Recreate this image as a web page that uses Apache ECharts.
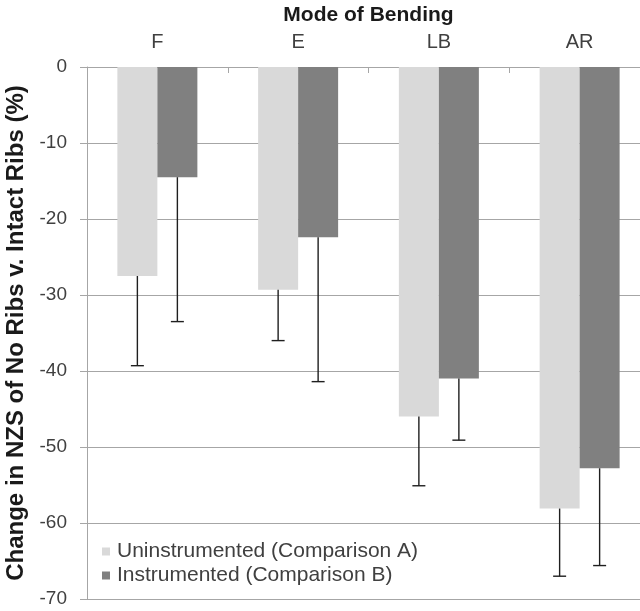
<!DOCTYPE html>
<html>
<head>
<meta charset="utf-8">
<script src="https://cdn.jsdelivr.net/npm/echarts@6/dist/echarts.min.js"></script>
<style>
  html, body { margin: 0; padding: 0; background: #fff; }
  #chart { width: 640px; height: 611px; }
</style>
</head>
<body>
<div id="chart"></div>
<script>
// Modes of bending (category axis, shown on top)
const categories = ['F', 'E', 'LB', 'AR'];

// Mean change in NZS (%) for each comparison
const uninstrumented = [-27.5, -29.3, -46.0, -58.1];
const instrumented = [-14.5, -22.4, -41.0, -52.8];

// Standard deviations, drawn as one-sided (downward) error bars
const uninstrumentedSD = [11.8, 6.7, 9.1, 8.9];
const instrumentedSD = [19.0, 19.0, 8.1, 12.8];

// Value axis ticks
const yTicks = { min: -70, max: 0, interval: 10 };

const seriesNames = ['Uninstrumented (Comparison A)', 'Instrumented (Comparison B)'];

const FONT = "'Liberation Sans', Arial, sans-serif";
const BAR_W = 40;

function errorBarRenderer(offset) {
  return function (params, api) {
    const idx = api.value(0);
    const mean = api.value(1);
    const sd = api.value(2);
    const start = api.coord([idx, mean]);
    const end = api.coord([idx, mean - sd]);
    const x = start[0] + offset;
    const cap = 6.5;
    const style = { stroke: '#1f1f1f', lineWidth: 1.4 };
    return {
      type: 'group',
      children: [
        { type: 'line', shape: { x1: x, y1: start[1], x2: x, y2: end[1] }, style },
        { type: 'line', shape: { x1: x - cap, y1: end[1], x2: x + cap, y2: end[1] }, style }
      ]
    };
  };
}

const chart = echarts.init(document.getElementById('chart'), null, { renderer: 'canvas' });

chart.setOption({
  animation: false,
  backgroundColor: '#ffffff',
  textStyle: { fontFamily: FONT },
  grid: { left: 87, top: 67, width: 563, height: 532, containLabel: false, outerBoundsMode: 'none' },
  legend: {
    data: seriesNames,
    orient: 'vertical',
    left: 97,
    top: 536,
    itemWidth: 8,
    itemHeight: 8,
    itemGap: 3,
    icon: 'rect',
    textStyle: { fontFamily: FONT, fontSize: 21, color: '#404040', padding: [0, 0, 0, 2] }
  },
  xAxis: {
    type: 'category',
    position: 'top',
    data: categories,
    name: 'Mode of Bending',
    nameLocation: 'middle',
    nameGap: 41,
    nameTextStyle: { fontFamily: FONT, fontSize: 21, fontWeight: 'bold', color: '#1a1a1a' },
    axisLine: { show: true, lineStyle: { color: '#a6a6a6', width: 1 } },
    axisTick: { show: true, inside: true, length: 6, lineStyle: { color: '#a6a6a6' } },
    axisLabel: { fontFamily: FONT, fontSize: 20, color: '#404040', margin: 15 },
    splitLine: { show: false }
  },
  yAxis: {
    type: 'value',
    min: yTicks.min,
    max: yTicks.max,
    interval: yTicks.interval,
    name: 'Change in NZS of No Ribs v. Intact Ribs (%)',
    nameLocation: 'middle',
    nameGap: 52,
    nameTextStyle: { fontFamily: FONT, fontSize: 24, fontWeight: 'bold', color: '#1a1a1a' },
    axisLine: { show: true, lineStyle: { color: '#a6a6a6', width: 1 } },
    axisTick: { show: true, length: 7, lineStyle: { color: '#a6a6a6' } },
    axisLabel: { fontFamily: FONT, fontSize: 19, color: '#404040', margin: 20 },
    splitLine: { show: true, lineStyle: { color: '#a6a6a6', width: 1.2 } }
  },
  series: [
    {
      name: seriesNames[0],
      type: 'bar',
      data: uninstrumented,
      barWidth: BAR_W,
      barGap: '0%',
      itemStyle: { color: '#d9d9d9' },
      z: 2
    },
    {
      name: seriesNames[1],
      type: 'bar',
      data: instrumented,
      barWidth: BAR_W,
      barGap: '0%',
      itemStyle: { color: '#808080' },
      z: 2
    },
    {
      name: 'errA',
      type: 'custom',
      renderItem: errorBarRenderer(-BAR_W / 2),
      data: categories.map((c, i) => [i, uninstrumented[i], uninstrumentedSD[i]]),
      encode: { x: 0, y: 1 },
      z: 5,
      silent: true
    },
    {
      name: 'errB',
      type: 'custom',
      renderItem: errorBarRenderer(BAR_W / 2),
      data: categories.map((c, i) => [i, instrumented[i], instrumentedSD[i]]),
      encode: { x: 0, y: 1 },
      z: 5,
      silent: true
    }
  ]
});
</script>
</body>
</html>
